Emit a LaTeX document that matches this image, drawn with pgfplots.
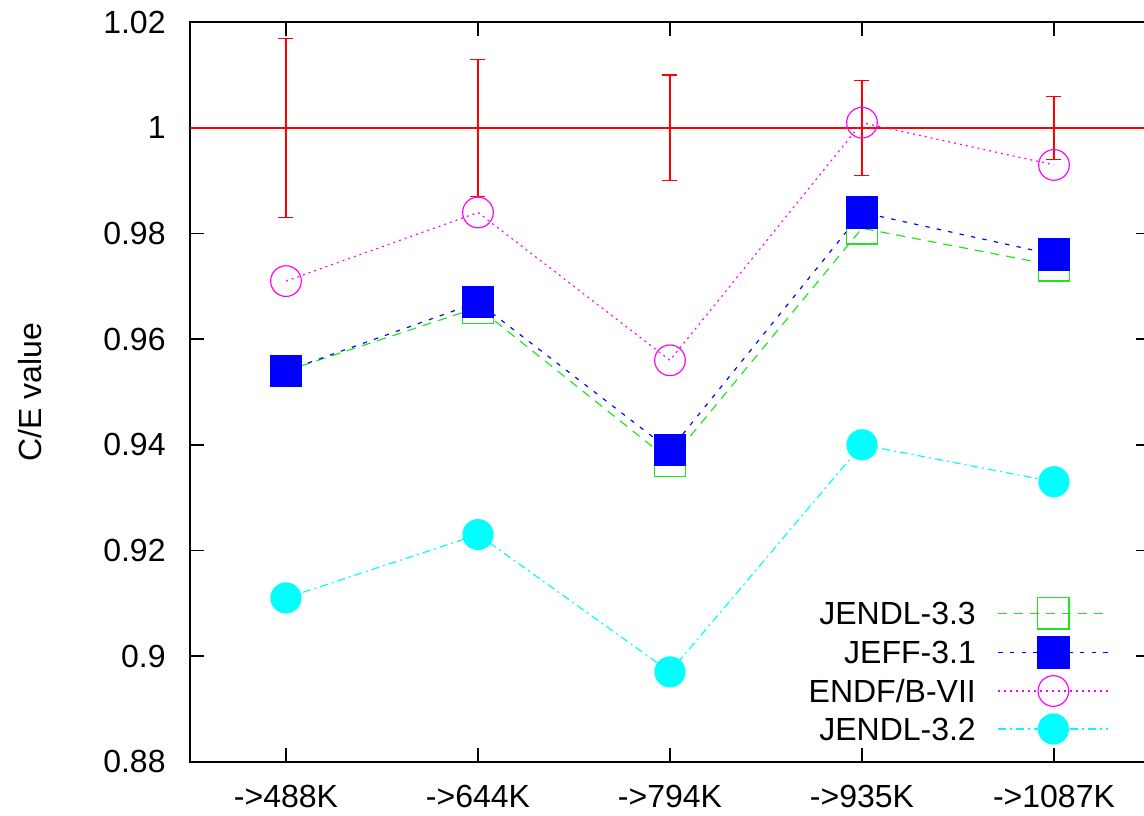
\documentclass[border=0pt]{standalone}
\usepackage{fontspec}
\setmainfont{Liberation Sans}
\usepackage{pgfplots}
\pgfplotsset{compat=1.18}

\definecolor{gpgreen}{RGB}{30,230,30}
\definecolor{gpblue}{RGB}{0,0,255}
\definecolor{gpmagenta}{RGB}{255,0,255}
\definecolor{gpcyan}{RGB}{0,255,255}
\definecolor{gpred}{RGB}{255,0,0}

\newcommand{\gpfont}{\fontsize{9.6}{11}\selectfont}

\pgfplotsset{
    LineStyle/.style={
        line width=0.35pt,
        mark options={solid, line width=0.35pt},
    },
    JENDL33-LineStyle/.style={
        LineStyle, color=gpgreen,
        dash pattern=on 2.7pt off 2.1pt,
        mark=square, mark size=4.7pt,
    },
    JEFF31-LineStyle/.style={
        LineStyle, color=gpblue,
        dash pattern=on 1.3pt off 2.2pt,
        mark=square*, mark size=4.7pt,
    },
    ENDF-LineStyle/.style={
        LineStyle, color=gpmagenta,
        dash pattern=on 0.6pt off 1.2pt,
        mark=o, mark size=4.6pt,
    },
    JENDL32-LineStyle/.style={
        LineStyle, color=gpcyan,
        dash pattern=on 2.4pt off 1.2pt on 0.6pt off 1.2pt,
        mark=*, mark size=4.5pt,
    },
}

\begin{document}
\begin{tikzpicture}
\begin{axis}[
    scale only axis,
    width=288pt, height=221.8pt,
    xmin=-0.5, xmax=4.5,
    ymin=0.88, ymax=1.02,
    xtick={0,1,2,3,4},
    xticklabels={->488K, ->644K, ->794K, ->935K, ->1087K},
    ytick={0.88,0.90,0.92,0.94,0.96,0.98,1.00,1.02},
    yticklabels={0.88,0.9,0.92,0.94,0.96,0.98,1,1.02},
    tick align=inside,
    major tick length=4.2pt,
    axis line style={line width=0.6pt},
    tick style={line width=0.45pt, black},
    tick label style={font=\gpfont},
    xticklabel style={yshift=-3.6pt},
    yticklabel style={xshift=-3.8pt},
    ylabel={C/E value},
    ylabel style={font=\gpfont, at={([xshift=-48pt]rel axis cs:0,0.5)}, anchor=center},
    legend plot pos=right,
    legend cell align=right,
    legend style={
        font=\gpfont, draw=none, fill=none,
        inner sep=0pt, outer sep=0pt,
        at={([xshift=-12.3pt, yshift=5.3pt]rel axis cs:1,0)}, anchor=south east,
        row sep=2.3pt, column sep=6.6pt,
        nodes={inner sep=0pt, text height=6.9pt, text depth=0pt},
    },
    legend image code/.code={
        \draw[mark repeat=2, mark phase=2, #1]
        plot coordinates {(0pt,0pt) (16.5pt,0pt) (33pt,0pt)};
    },
]
\coordinate (sw) at (rel axis cs:0,0);

% experiment: C/E = 1 with its uncertainty
\addplot[gpred, line width=0.4pt, forget plot] coordinates {(-0.5,1) (4.5,1)};
\addplot[gpred, line width=0.4pt, mark=none, forget plot,
    error bars/.cd, y dir=both, y explicit,
    error bar style={line width=0.4pt},
    error mark options={rotate=90, line width=0.4pt, mark size=2.25pt}]
    coordinates {(0,1) +- (0,0.017) (1,1) +- (0,0.013) (2,1) +- (0,0.010)
                 (3,1) +- (0,0.009) (4,1) +- (0,0.006)};

\addplot[JENDL33-LineStyle] coordinates {(0,0.954) (1,0.966) (2,0.937) (3,0.981) (4,0.974)};
\addlegendentry{JENDL-3.3}
\addplot[JEFF31-LineStyle] coordinates {(0,0.954) (1,0.967) (2,0.939) (3,0.984) (4,0.976)};
\addlegendentry{JEFF-3.1}
\addplot[ENDF-LineStyle] coordinates {(0,0.971) (1,0.984) (2,0.956) (3,1.001) (4,0.993)};
\addlegendentry{ENDF/B-VII}
\addplot[JENDL32-LineStyle] coordinates {(0,0.911) (1,0.923) (2,0.897) (3,0.940) (4,0.933)};
\addlegendentry{JENDL-3.2}
\end{axis}
\pgfresetboundingbox
\path[use as bounding box] ([shift={(-57pt,-16pt)}]sw) rectangle ([shift={(286.2pt,228.5pt)}]sw);
\end{tikzpicture}
\end{document}
